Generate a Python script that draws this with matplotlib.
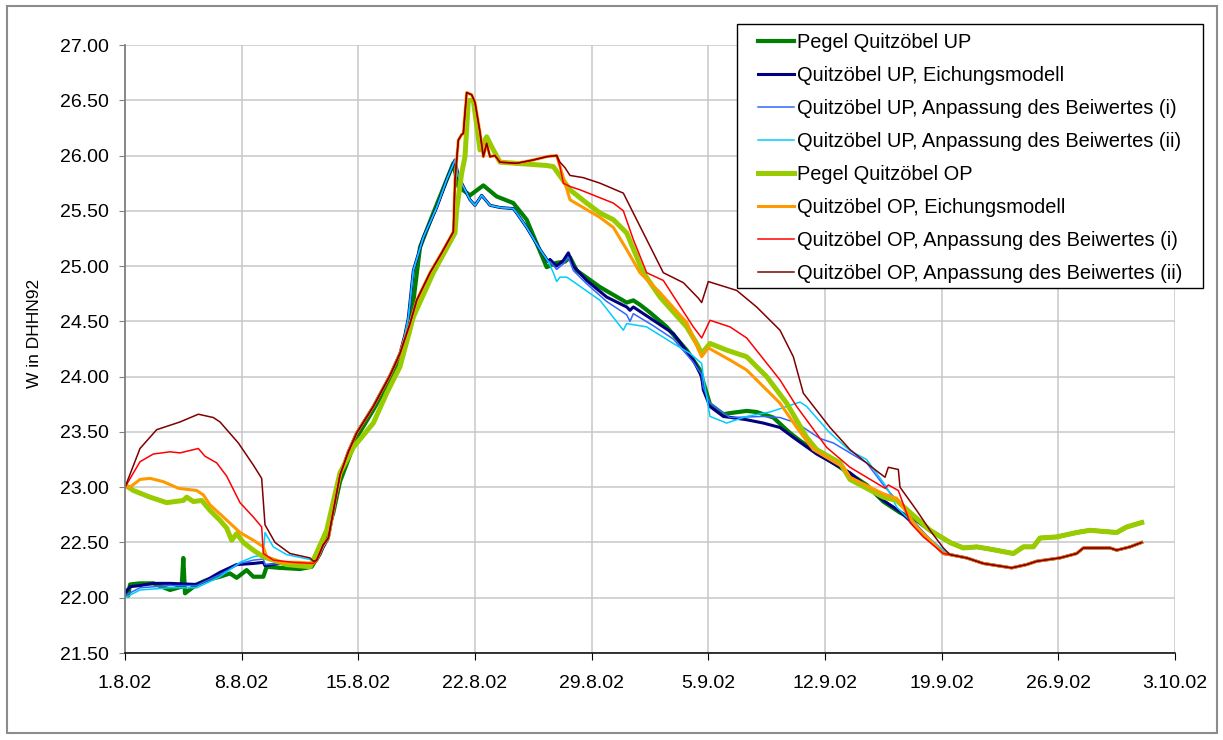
import numpy as np
import matplotlib
matplotlib.use("Agg")
import matplotlib.pyplot as plt
from matplotlib.patches import Rectangle

plt.rcParams['font.family'] = ['Liberation Sans', 'DejaVu Sans']

# --- Daten: Tage seit 1.8.02, Wasserstand W in DHHN92 ---
tick_days = [0, 7, 14, 21, 28, 35, 42, 49, 56, 63]
tick_labels = ['1.8.02', '8.8.02', '15.8.02', '22.8.02', '29.8.02',
               '5.9.02', '12.9.02', '19.9.02', '26.9.02', '3.10.02']

# gemeinsamer Anstieg der OP-Modelle
rise_op = [(11.5, 22.34), (11.9, 22.48), (12.2, 22.54), (12.9, 23.11), (13.4, 23.32),
           (13.9, 23.49), (14.9, 23.73), (15.9, 24.01), (16.5, 24.21), (17.1, 24.48),
           (17.5, 24.69), (18.3, 24.94), (19.0, 25.12), (19.7, 25.31), (19.8, 25.78),
           (20.0, 26.14), (20.2, 26.19), (20.3, 26.20), (20.5, 26.57), (20.8, 26.55),
           (21.0, 26.48), (21.3, 26.21), (21.5, 25.99), (21.7, 26.11), (21.9, 25.99),
           (22.2, 26.00), (22.5, 25.94), (23.5, 25.93), (24.5, 25.96), (25.3, 25.99),
           (25.9, 26.00)]

# gemeinsamer Anstieg der UP-Modelle
rise_up = [(11.5, 22.34), (11.9, 22.46), (12.2, 22.54), (12.9, 23.11), (13.4, 23.32),
           (13.9, 23.49), (14.9, 23.73), (15.9, 24.01), (16.5, 24.21), (16.8, 24.38),
           (17.0, 24.53), (17.3, 24.96), (17.9, 25.26), (18.7, 25.53), (19.3, 25.78),
           (19.8, 25.96), (20.0, 25.81), (20.3, 25.72), (20.7, 25.60), (21.0, 25.55),
           (21.4, 25.64), (21.9, 25.55), (22.5, 25.53), (23.3, 25.52), (23.5, 25.48),
           (24.1, 25.35), (24.9, 25.15), (25.4, 25.04)]

# gemeinsames Ende der Modelle bzw. der Pegel
tail_model = [(49.5, 22.39), (50.5, 22.36), (51.5, 22.31), (53.2, 22.27), (54.1, 22.30),
              (54.7, 22.33), (56.1, 22.36), (57.1, 22.40), (57.5, 22.45), (59.1, 22.45),
              (59.5, 22.43), (60.3, 22.46), (61.0, 22.50)]
tail_gauge = [(49.5, 22.50), (50.3, 22.45), (51.1, 22.46), (51.9, 22.44), (53.3, 22.40),
              (53.9, 22.46), (54.5, 22.46), (54.9, 22.54), (55.9, 22.55), (57.1, 22.59),
              (57.9, 22.61), (59.5, 22.59), (60.1, 22.64), (61.0, 22.68)]

pegel_up = [(0, 22.07), (0.2, 22.02), (0.3, 22.12), (0.9, 22.13), (1.7, 22.13), (2.7, 22.07),
            (3.4, 22.10), (3.5, 22.36), (3.6, 22.04), (4.3, 22.12), (4.9, 22.16), (5.7, 22.19),
            (6.3, 22.22), (6.7, 22.18), (7.3, 22.25), (7.7, 22.19), (8.3, 22.19), (8.5, 22.28),
            (9.3, 22.27), (10.5, 22.26), (11.2, 22.28), (11.7, 22.40), (12.5, 22.77),
            (12.9, 23.05), (13.9, 23.45), (14.9, 23.70), (15.9, 23.97), (16.5, 24.15),
            (17.1, 24.42), (17.4, 24.80), (17.7, 25.17), (18.5, 25.48), (19.7, 25.93),
            (20.0, 25.72), (20.7, 25.64), (21.5, 25.73), (22.3, 25.63), (23.3, 25.57),
            (24.1, 25.42), (25.3, 24.99), (25.9, 25.03), (26.4, 25.04), (26.7, 25.08),
            (27.1, 24.96), (28.5, 24.81), (30.1, 24.67), (30.5, 24.69), (30.9, 24.65),
            (31.5, 24.58), (32.5, 24.45), (33.7, 24.24), (34.5, 24.06), (34.7, 23.95),
            (35.1, 23.75), (35.9, 23.66), (36.3, 23.67), (37.3, 23.69), (37.9, 23.68),
            (38.9, 23.63), (39.9, 23.49), (40.5, 23.42), (42.5, 23.22), (44.5, 23.02),
            (45.5, 22.87), (46.5, 22.77), (47.5, 22.70), (48.3, 22.61)] + tail_gauge

up_eich = [(0, 22.04), (0.3, 22.10), (0.9, 22.11), (1.7, 22.13), (2.7, 22.13), (4.3, 22.12),
           (4.9, 22.16), (5.7, 22.23), (6.7, 22.30), (7.7, 22.31), (8.3, 22.32), (8.4, 22.29),
           (9.3, 22.31), (11.3, 22.31)] + rise_up + \
          [(25.5, 25.06), (25.9, 25.00), (26.3, 25.05), (26.6, 25.12), (26.9, 25.00),
           (27.7, 24.87), (28.9, 24.72), (30.1, 24.63), (30.3, 24.60), (30.5, 24.63),
           (31.7, 24.51), (32.9, 24.39), (34.1, 24.15), (34.6, 24.00), (34.7, 23.88),
           (35.1, 23.73), (35.9, 23.64), (37.3, 23.61), (38.3, 23.58), (39.3, 23.54),
           (40.1, 23.45), (41.5, 23.30), (43.5, 23.13), (45.5, 22.88), (46.5, 22.78),
           (47.5, 22.64), (49.1, 22.40)] + tail_model

up_i = [(0, 22.02), (0.9, 22.09), (2.7, 22.11), (4.3, 22.11), (5.7, 22.21), (6.9, 22.31),
        (7.7, 22.34), (8.3, 22.35), (8.4, 22.30), (9.3, 22.31), (11.3, 22.31)] + rise_up + \
       [(25.5, 25.04), (25.9, 24.97), (26.3, 25.02), (26.6, 25.08), (26.9, 24.96),
        (27.7, 24.84), (28.9, 24.68), (30.1, 24.56), (30.3, 24.50), (30.5, 24.57),
        (31.7, 24.46), (32.9, 24.34), (34.1, 24.13), (34.6, 24.02), (34.7, 23.90),
        (35.1, 23.76), (36.3, 23.63), (38.3, 23.64), (39.3, 23.63), (40.3, 23.58),
        (41.7, 23.44), (42.5, 23.40), (44.5, 23.22), (45.6, 23.00), (46.5, 22.85),
        (47.5, 22.66), (49.1, 22.40)] + tail_model

up_ii = [(0, 22.00), (0.9, 22.07), (2.7, 22.09), (4.3, 22.09), (5.7, 22.19), (6.9, 22.32),
         (7.7, 22.37), (8.3, 22.39), (8.4, 22.59), (8.9, 22.46), (9.7, 22.39), (11.3, 22.34)] + rise_up + \
        [(25.7, 24.94), (25.9, 24.86), (26.1, 24.90), (26.5, 24.90), (26.8, 24.87),
         (28.5, 24.69), (29.9, 24.42), (30.1, 24.48), (31.3, 24.45), (32.9, 24.30),
         (33.9, 24.21), (34.6, 24.12), (34.7, 24.00), (35.1, 23.64), (36.1, 23.58),
         (37.3, 23.64), (38.7, 23.68), (39.7, 23.73), (40.5, 23.77), (40.9, 23.73),
         (42.3, 23.49), (43.5, 23.33), (44.5, 23.25), (45.7, 23.00), (46.3, 22.82),
         (47.5, 22.64), (49.1, 22.43)] + tail_model

pegel_op = [(0, 23.02), (0.5, 22.97), (1.5, 22.91), (2.5, 22.86), (3.5, 22.88), (3.7, 22.91),
            (4.1, 22.87), (4.6, 22.88), (5.1, 22.79), (5.7, 22.70), (6.1, 22.63), (6.4, 22.52),
            (6.7, 22.58), (7.1, 22.50), (7.7, 22.43), (8.3, 22.37), (9.7, 22.30), (11.1, 22.28),
            (11.3, 22.34), (12.1, 22.61), (12.9, 23.13), (13.7, 23.36), (14.9, 23.58),
            (15.7, 23.85), (16.5, 24.09), (17.3, 24.54), (18.5, 24.94), (19.8, 25.30),
            (19.9, 25.51), (20.2, 25.84), (20.4, 25.99), (20.6, 26.50), (20.9, 26.50),
            (21.3, 26.05), (21.7, 26.17), (22.0, 26.08), (22.5, 25.94), (25.3, 25.91),
            (25.7, 25.90), (26.7, 25.69), (27.7, 25.57), (28.5, 25.48), (29.3, 25.42),
            (30.1, 25.30), (31.1, 24.94), (32.1, 24.72), (33.7, 24.45), (34.3, 24.30),
            (34.6, 24.21), (35.1, 24.30), (36.1, 24.24), (37.3, 24.18), (38.5, 24.00),
            (39.7, 23.76), (40.9, 23.45), (41.5, 23.34), (42.9, 23.22), (43.5, 23.07),
            (45.5, 22.91), (46.3, 22.88), (48.3, 22.61)] + tail_gauge

op_eich = [(0, 23.00), (0.3, 23.00), (0.9, 23.07), (1.5, 23.08), (2.3, 23.05), (3.2, 22.99),
           (4.3, 22.97), (4.7, 22.93), (5.1, 22.84), (5.9, 22.73), (6.9, 22.59), (7.7, 22.52),
           (8.3, 22.46), (8.5, 22.37), (9.3, 22.32), (10.5, 22.32), (11.3, 22.31)] + rise_op + \
          [(26.7, 25.60), (28.5, 25.44), (29.3, 25.35), (30.1, 25.15), (30.9, 24.94),
           (32.1, 24.76), (33.7, 24.49), (34.6, 24.18), (35.0, 24.26), (36.3, 24.15),
           (37.3, 24.06), (39.3, 23.76), (40.3, 23.54), (41.3, 23.34), (43.1, 23.18),
           (43.5, 23.09), (45.5, 22.94), (46.3, 22.90), (47.5, 22.64), (49.1, 22.40)] + tail_model

op_i = [(0, 23.00), (0.9, 23.23), (1.7, 23.30), (2.7, 23.32), (3.3, 23.31), (4.4, 23.35),
        (4.8, 23.28), (5.5, 23.22), (6.1, 23.10), (6.9, 22.86), (7.7, 22.73), (8.2, 22.64),
        (8.3, 22.40), (8.9, 22.34), (10.1, 22.32), (11.3, 22.31)] + rise_op + \
       [(26.1, 25.90), (26.3, 25.75), (26.7, 25.72), (27.3, 25.69), (28.3, 25.63),
        (29.3, 25.57), (29.9, 25.50), (30.5, 25.24), (31.3, 24.94), (32.3, 24.87),
        (34.1, 24.45), (34.6, 24.35), (35.1, 24.51), (36.3, 24.45), (37.3, 24.35),
        (39.3, 23.97), (40.3, 23.73), (42.1, 23.36), (43.5, 23.18), (45.6, 22.99),
        (45.8, 23.02), (46.4, 22.97), (47.1, 22.68), (47.9, 22.55), (49.1, 22.40)] + tail_model

op_ii = [(0, 23.00), (0.9, 23.35), (1.9, 23.52), (3.3, 23.59), (4.4, 23.66), (5.3, 23.63),
         (5.7, 23.59), (6.8, 23.40), (7.7, 23.20), (8.2, 23.08), (8.4, 22.66), (9.0, 22.50),
         (9.9, 22.40), (11.1, 22.36), (11.3, 22.33)] + rise_op + \
        [(26.1, 25.94), (26.4, 25.89), (26.7, 25.82), (27.5, 25.80), (28.5, 25.75),
         (29.9, 25.66), (30.3, 25.54), (31.3, 25.24), (32.3, 24.94), (33.5, 24.85),
         (34.4, 24.71), (34.6, 24.67), (35.0, 24.86), (36.7, 24.78), (37.9, 24.63),
         (39.3, 24.42), (40.1, 24.18), (40.7, 23.85), (42.3, 23.54), (43.5, 23.34),
         (44.9, 23.17), (45.6, 23.09), (45.8, 23.18), (46.4, 23.16), (46.5, 23.00),
         (47.5, 22.79), (48.3, 22.61), (49.1, 22.45)] + tail_model

series = [
    ('Pegel Quitzöbel UP', pegel_up, '#008000', 3.0),
    ('Quitzöbel UP, Eichungsmodell', up_eich, '#000080', 2.2),
    ('Quitzöbel UP, Anpassung des Beiwertes (i)', up_i, '#3366FF', 1.1),
    ('Quitzöbel UP, Anpassung des Beiwertes (ii)', up_ii, '#00CCFF', 1.1),
    ('Pegel Quitzöbel OP', pegel_op, '#99CC00', 3.6),
    ('Quitzöbel OP, Eichungsmodell', op_eich, '#FF9900', 2.2),
    ('Quitzöbel OP, Anpassung des Beiwertes (i)', op_i, '#FF0000', 1.1),
    ('Quitzöbel OP, Anpassung des Beiwertes (ii)', op_ii, '#800000', 1.1),
]

# --- Grafik ---
W, H = 1223, 740
fig = plt.figure(figsize=(W / 100, H / 100), dpi=100)
ax = fig.add_axes([125 / W, 1 - 653 / H, (1175 - 125) / W, (653 - 45) / H])

for label, pts, color, lw in series:
    x, y = zip(*pts)
    ax.plot(x, y, color=color, lw=lw, label=label, solid_joinstyle='round')

ax.set_xlim(0, 63)
ax.set_ylim(21.5, 27.0)
ax.set_xticks(tick_days)
ax.set_xticklabels(tick_labels)
ax.set_yticks(np.arange(21.5, 27.01, 0.5))
ax.set_yticklabels([f'{v:.2f}' for v in np.arange(21.5, 27.01, 0.5)])
ax.grid(True, color='#c8c8c8', lw=1.1)
ax.set_axisbelow(True)
for s in ('top', 'right'):
    ax.spines[s].set_visible(False)
ax.spines['left'].set_color('#808080')
ax.spines['left'].set_linewidth(1.3)
ax.spines['bottom'].set_color('black')
ax.spines['bottom'].set_linewidth(1.1)
ax.tick_params(axis='y', direction='out', length=4.3, color='#808080', labelsize=14, pad=7)
ax.tick_params(axis='x', direction='out', length=5, color='black', labelsize=14, pad=10.5)
ax.set_ylabel('W in DHHN92', fontsize=12.5)
ax.yaxis.set_label_coords(-83 / 1050, (653 - 333) / 608)

# Legende mit eigenem Rahmen
fig.patches.append(Rectangle((737 / W, 1 - 288 / H), (1203 - 737) / W, (288 - 24) / H,
                             transform=fig.transFigure, facecolor='white',
                             edgecolor='black', lw=1.0, zorder=4))
fig.legend(loc='upper left', bbox_to_anchor=(748 / W, 1 - 23 / H), frameon=False,
           fontsize=14.4, handlelength=1.8, handletextpad=0.15, labelspacing=0.70,
           borderpad=0)

# Rahmen um das Diagramm
fig.patches.append(Rectangle((7 / W, 1 - 733 / H), (1217 - 7) / W, (733 - 6) / H,
                             transform=fig.transFigure, facecolor='none',
                             edgecolor='#8c8c8c', lw=1.5, zorder=3))

fig.savefig('out.png', dpi=100, facecolor='white')
